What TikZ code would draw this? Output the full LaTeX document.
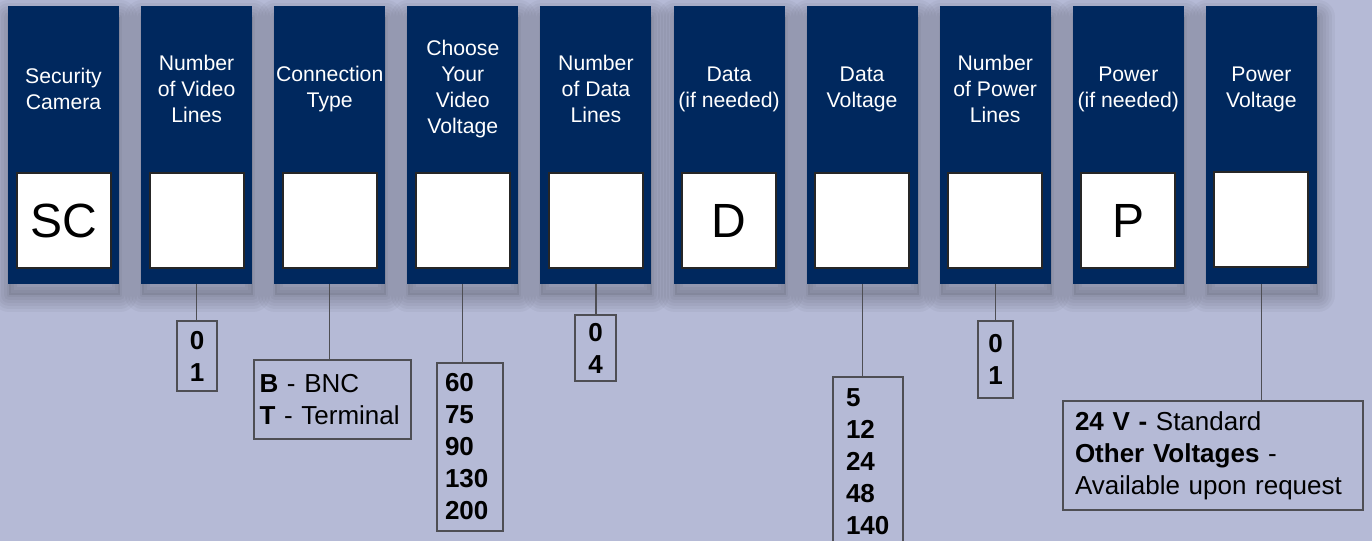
\documentclass[tikz,border=0pt]{standalone}
\usepackage{fontspec}
\setmainfont{Liberation Sans}
\usetikzlibrary{positioning}
\definecolor{navycol}{RGB}{0,40,94}
\definecolor{lavbg}{RGB}{181,186,214}
\definecolor{slotline}{RGB}{38,38,38}
\definecolor{optline}{RGB}{78,78,84}
\tikzset{
  shadelayer/.style={preaction={draw=black, draw opacity=0.035, line width=#1, line join=round,
    transform canvas={xshift=0.5pt, yshift=-5.5pt}}},
  colbar/.style={fill=navycol, minimum width=55.5pt, minimum height=139pt, inner sep=0pt,
    shadelayer=17pt, shadelayer=14pt, shadelayer=11pt, shadelayer=8pt, shadelayer=5pt, shadelayer=2pt,
    preaction={fill=black, fill opacity=0.08, transform canvas={xshift=0.5pt, yshift=-5.5pt}}},
  colhead/.style={text=white, font=\fontsize{10.6}{13}\selectfont, align=center, inner sep=0pt},
  slotbox/.style={draw=slotline, line width=1pt, fill=white, minimum width=47pt, minimum height=47.5pt,
    inner sep=0pt, font=\fontsize{24}{28}\selectfont},
  optbox/.style={draw=optline, line width=0.6pt, font=\fontsize{13}{16}\selectfont, inner sep=0pt},
  optnum/.style={optbox, font=\fontsize{13}{16}\selectfont\bfseries},
  stem/.style={draw=optline, line width=0.6pt}
}

\begin{document}
\begin{tikzpicture}[x=0.5pt, y=-0.5pt]
    \fill[lavbg] (0,0) rectangle (1372,541);
    \clip (0,0) rectangle (1372,541);

    % the ten columns of the order code
    \node[colbar] (c1) at (63.5,145) {};
    \node[colbar] (c2) at (196.6,145) {};
    \node[colbar] (c3) at (329.7,145) {};
    \node[colbar] (c4) at (462.8,145) {};
    \node[colbar] (c5) at (595.9,145) {};
    \node[colbar] (c6) at (729,145) {};
    \node[colbar] (c7) at (862.1,145) {};
    \node[colbar] (c8) at (995.2,145) {};
    \node[colbar] (c9) at (1128.3,145) {};
    \node[colbar] (c10) at (1261.4,145) {};

    \node[colhead] (h1) at (63.5,89) {Security\\Camera};
    \node[colhead] (h2) at (196.6,89) {Number\\of Video\\Lines};
    \node[colhead] (h3) at (329.7,89) {Connection\\Type};
    \node[colhead] (h4) at (462.8,89) {Choose\\Your\\Video\\Voltage};
    \node[colhead] (h5) at (595.9,89) {Number\\of Data\\Lines};
    \node[colhead] (h6) at (729,89) {Data\\(if needed)};
    \node[colhead] (h7) at (862.1,89) {Data\\Voltage};
    \node[colhead] (h8) at (995.2,89) {Number\\of Power\\Lines};
    \node[colhead] (h9) at (1128.3,89) {Power\\(if needed)};
    \node[colhead] (h10) at (1261.4,89) {Power\\Voltage};

    \node[slotbox] (s1) at (63.5,220.5) {SC};
    \node[slotbox] (s2) at (196.6,220.5) {};
    \node[slotbox] (s3) at (329.7,220.5) {};
    \node[slotbox] (s4) at (462.8,220.5) {};
    \node[slotbox] (s5) at (595.9,220.5) {};
    \node[slotbox] (s6) at (729,220.5) {D};
    \node[slotbox] (s7) at (862.1,220.5) {};
    \node[slotbox] (s8) at (995.2,220.5) {};
    \node[slotbox] (s9) at (1128.3,220.5) {P};
    \node[slotbox] (s10) at (1261.4,219) {};

    % option lists
    \node[optnum, minimum width=20pt, minimum height=35pt, align=center] (o2) at (197,356) {0\\1};
    \node[optbox, text width=73pt, inner xsep=2.75pt, minimum height=39.5pt, align=left] (o3) at (332.5,399.5)
      {\textbf{B} - BNC\\\textbf{T} - Terminal};
    \node[optnum, text width=25pt, inner xsep=4pt, minimum height=84pt, align=left] (o4) at (470,447)
      {60\\75\\90\\130\\200};
    \node[optnum, minimum width=20.5pt, minimum height=33pt, align=center] (o5) at (595.5,348) {0\\4};
    \node[optnum, text width=22pt, inner xsep=6.5pt, minimum height=84.5pt, align=left] (o7) at (868,461.5)
      {5\\12\\24\\48\\140};
    \node[optnum, minimum width=17.5pt, minimum height=38.5pt, align=center] (o8) at (995.5,359.5) {0\\1};
    \node[optbox, text width=138pt, inner xsep=6pt, minimum height=54.5pt, align=left] (o10) at (1213,455.5)
      {\textbf{24 V -} Standard\\\textbf{Other Voltages} -\\Available upon request};

    \draw[stem] (c2.south) -- (c2.south |- o2.north);
    \draw[stem] (c3.south) -- (c3.south |- o3.north);
    \draw[stem] (c4.south) -- (c4.south |- o4.north);
    \draw[stem] (c5.south) -- (c5.south |- o5.north);
    \draw[stem] (c7.south) -- (c7.south |- o7.north);
    \draw[stem] (c8.south) -- (c8.south |- o8.north);
    \draw[stem] (c10.south) -- (c10.south |- o10.north);
  \end{tikzpicture}
\end{document}
